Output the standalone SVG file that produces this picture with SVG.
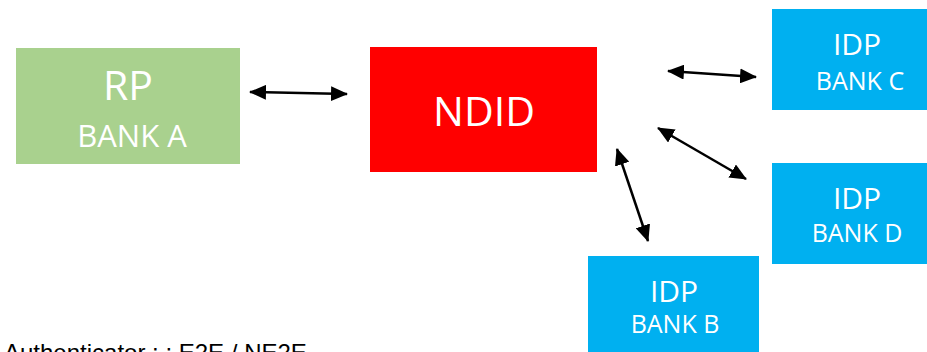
<svg xmlns="http://www.w3.org/2000/svg" width="927" height="352" viewBox="0 0 927 352">
<style>
.lbl{font-family:"Open Sans","DejaVu Sans",sans-serif;fill:#ffffff;text-anchor:middle}
.big{font-size:41px}
.mid{font-size:30px}
.sm{font-size:25px}
.smA{font-size:31px}
.conn{stroke:#000;stroke-width:2.5;fill:none;marker-start:url(#ah);marker-end:url(#ah)}
.note{font-family:"Liberation Sans",Arial,sans-serif;font-size:24px;fill:#000}
</style>
<defs>
<marker id="ah" viewBox="0 0 17 15" refX="16" refY="7.5" markerWidth="17" markerHeight="15" markerUnits="userSpaceOnUse" orient="auto-start-reverse">
<path d="M0,0 L17,7.5 L0,15 Z" fill="#000"/>
</marker>
</defs>
<rect width="927" height="352" fill="#ffffff"/>
<g id="rp">
<rect x="16" y="48" width="224" height="116" fill="#A9D18E"/>
<text class="lbl big" x="128" y="100">RP</text>
<text class="lbl smA" x="132" y="147">BANK A</text>
</g>
<g id="ndid">
<rect x="370" y="47" width="227" height="125" fill="#FF0000"/>
<text class="lbl big" x="484" y="126">NDID</text>
</g>
<g id="idpc">
<rect x="772" y="9" width="155" height="101" fill="#00B0F0"/>
<text class="lbl mid" x="857" y="55">IDP</text>
<text class="lbl sm" x="860" y="90">BANK C</text>
</g>
<g id="idpd">
<rect x="772" y="163" width="155" height="101" fill="#00B0F0"/>
<text class="lbl mid" x="857" y="209">IDP</text>
<text class="lbl sm" x="857" y="242">BANK D</text>
</g>
<g id="idpb">
<rect x="588" y="256" width="171" height="96" fill="#00B0F0"/>
<text class="lbl mid" x="674" y="302">IDP</text>
<text class="lbl sm" x="675" y="333">BANK B</text>
</g>
<g id="connectors">
<line class="conn" x1="250" y1="92" x2="347" y2="94"/>
<line class="conn" x1="668" y1="71" x2="756" y2="77"/>
<line class="conn" x1="658" y1="128" x2="746" y2="179"/>
<line class="conn" x1="617" y1="149" x2="648" y2="241"/>
</g>
<text class="note" x="4" y="361">Authenticator : : E2E / NE2E</text>
</svg>
